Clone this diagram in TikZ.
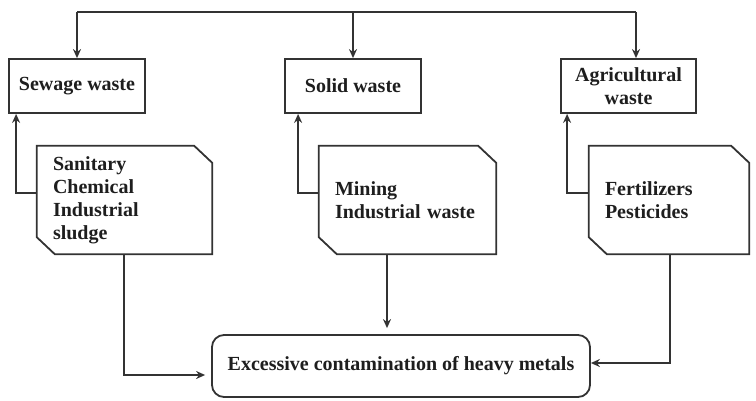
\documentclass[tikz,border=0pt]{standalone}
\usepackage{fontspec}
\setmainfont{Liberation Serif}
\usetikzlibrary{arrows.meta}

\definecolor{ink}{HTML}{1E1E1E}
\definecolor{wire}{HTML}{333333}

\tikzset{
  wastebox/.style={draw=wire, line width=1.8pt, fill=white, inner sep=0pt,
    minimum height=54pt, align=center, text=ink,
    font=\fontsize{20}{23}\selectfont\bfseries},
  sourcebox/.style={inner xsep=16pt, inner ysep=0pt, align=left, text=ink,
    minimum height=108pt, font=\fontsize{20}{23}\selectfont\bfseries},
  outcome/.style={draw=wire, line width=1.8pt, rounded corners=12pt, fill=white,
    minimum width=378pt, minimum height=62pt, text=ink,
    font=\fontsize{20}{23}\selectfont\bfseries},
  wireline/.style={draw=wire, line width=1.8pt},
  arr/.style={wireline, -{Stealth[length=9pt,width=8pt]}},
  chamfer/.style={draw=wire, line width=1.8pt}
}

\begin{document}
\begin{tikzpicture}[x=1pt,y=-1pt]
\useasboundingbox (0,0) rectangle (756,400);

% waste categories
\node[wastebox, minimum width=136pt] (sewage) at (77,86) {Sewage waste};
\node[wastebox, minimum width=136pt] (solid)  at (353,86) {Solid waste};
\node[wastebox, minimum width=135pt] (agri)   at (628.5,86) {Agricultural\\waste};

% sources (text nodes, outlines drawn below)
\node[sourcebox, text width=143pt] (docA) at (124.5,200)
  {Sanitary\\Chemical\\Industrial\\sludge};
\node[sourcebox, text width=145pt] (docB) at (407.5,200)
  {Mining\\Industrial waste};
\node[sourcebox, text width=128pt] (docC) at (669,200)
  {Fertilizers\\Pesticides};

% chamfered outlines of the source boxes
\foreach \b in {docA,docB,docC}{
  \draw[chamfer] (\b.north west) -- ([xshift=-18pt]\b.north east)
    -- ([yshift=-17pt]\b.north east) -- (\b.south east)
    -- ([xshift=18pt]\b.south west) -- ([yshift=17pt]\b.south west) -- cycle;
}

% result
\node[outcome] (main) at (401,366) {Excessive contamination of heavy metals};

% distribution bus on top
\coordinate (busL) at (77,12);
\coordinate (busR) at (636,12);
\draw[wireline] (busL) -- (busR);
\draw[arr] (busL) -- (sewage.north);
\draw[arr] (busL -| solid.north) -- (solid.north);
\draw[arr] (busR) -- (busR |- agri.north);

% sources feed their categories
\draw[arr] ([yshift=7pt]docA.west) -| ([xshift=8pt]sewage.south west);
\draw[arr] ([yshift=7pt]docB.west) -| ([xshift=14pt]solid.south west);
\draw[arr] ([yshift=7pt]docC.west) -| ([xshift=7pt]agri.south west);

% sources lead to contamination
\draw[arr, shorten >=6pt] ([xshift=-0.5pt]docA.south) |- ([yshift=-9pt]main.west);
\draw[arr, shorten >=6pt] ([xshift=-20.5pt]docB.south) -- ([xshift=-20.5pt]docB.south |- main.north);
\draw[arr] ([xshift=1pt]docC.south) |- ([yshift=3pt]main.east);
\end{tikzpicture}
\end{document}
